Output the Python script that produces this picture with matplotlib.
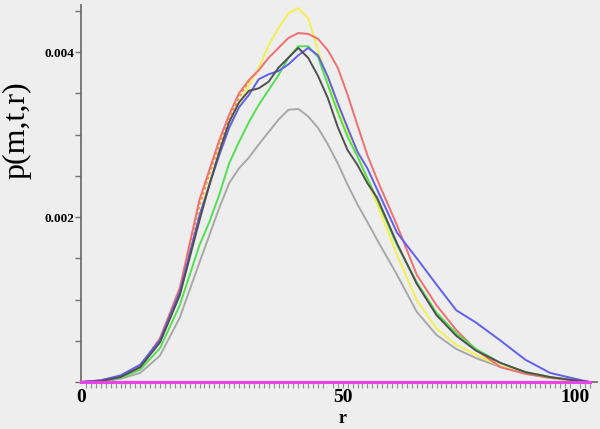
import matplotlib
matplotlib.use("Agg")
import matplotlib.pyplot as plt
import matplotlib.transforms as mtransforms
import numpy as np

# r grid (read positions)
r = [0, 4, 8, 12, 16, 20, 24, 26, 28, 30, 32, 34, 36, 38, 40, 42, 44, 46, 48, 50,
     52, 54, 56, 58, 60, 64, 68, 72, 76, 80, 85, 90, 95, 100, 103]

yellow = [0, 0.00001, 0.00006, 0.00017, 0.00051, 0.00108, 0.00202, 0.00242, 0.00275, 0.00308,
          0.00335, 0.00360, 0.00381, 0.00408, 0.00429, 0.00447, 0.00453, 0.00441, 0.00402, 0.00366,
          0.00333, 0.00303, 0.00275, 0.00245, 0.00215, 0.00154, 0.00099, 0.00065, 0.00045, 0.00033,
          0.00019, 0.00011, 0.00005, 0.00001, 0]

red = [0, 0.00002, 0.00007, 0.00019, 0.00053, 0.00114, 0.00221, 0.00257, 0.00293, 0.00324,
       0.00350, 0.00366, 0.00378, 0.00393, 0.00405, 0.00417, 0.00423, 0.00422, 0.00416, 0.00402,
       0.00381, 0.00348, 0.00311, 0.00275, 0.00245, 0.00190, 0.00130, 0.00093, 0.00063, 0.00039,
       0.00018, 0.00010, 0.00005, 0.00002, 0]

green = [0, 0.00001, 0.00005, 0.00015, 0.00041, 0.00093, 0.00166, 0.00194, 0.00227, 0.00265,
         0.00291, 0.00315, 0.00336, 0.00354, 0.00372, 0.00393, 0.00407, 0.00407, 0.00394, 0.00360,
         0.00327, 0.00297, 0.00273, 0.00247, 0.00221, 0.00166, 0.00121, 0.00084, 0.00059, 0.00040,
         0.00023, 0.00012, 0.00006, 0.00002, 0]

blue = [0, 0.00002, 0.00008, 0.00021, 0.00051, 0.00109, 0.00202, 0.00239, 0.00275, 0.00308,
        0.00333, 0.00348, 0.00367, 0.00373, 0.00377, 0.00385, 0.00396, 0.00405, 0.00396, 0.00370,
        0.00338, 0.00308, 0.00279, 0.00259, 0.00233, 0.00181, 0.00150, 0.00118, 0.00087, 0.00072,
        0.00050, 0.00027, 0.00011, 0.00004, 0]

black = [0, 0.00001, 0.00006, 0.00018, 0.00048, 0.00105, 0.00196, 0.00239, 0.00279, 0.00315,
         0.00339, 0.00353, 0.00356, 0.00364, 0.00381, 0.00393, 0.00405, 0.00393, 0.00371, 0.00344,
         0.00309, 0.00281, 0.00263, 0.00241, 0.00223, 0.00168, 0.00119, 0.00081, 0.00056, 0.00038,
         0.00023, 0.00012, 0.00006, 0.00002, 0]

gray = [0, 0, 0.00004, 0.00011, 0.00032, 0.00078, 0.00145, 0.00178, 0.00211, 0.00241,
        0.00259, 0.00272, 0.00288, 0.00303, 0.00318, 0.00330, 0.00331, 0.00322, 0.00308, 0.00288,
        0.00265, 0.00239, 0.00215, 0.00194, 0.00172, 0.00130, 0.00085, 0.00057, 0.00040, 0.00029,
        0.00018, 0.00010, 0.00005, 0.00001, 0]

# orange dotted curve, visible only on the rising side
orange_r = [0, 4, 8, 12, 16, 20, 24, 26, 28, 30, 32, 34, 36]
orange = [0, 0.00002, 0.00007, 0.00019, 0.00053, 0.00112, 0.00214, 0.00252, 0.00287, 0.00318,
          0.00345, 0.00365, 0.00378]

magenta_r = [0, 103]
magenta = [0, 0]

xtick_vals = [0, 50, 100]
xtick_text = ["0", "50", "100"]
ytick_text = {0.002: "0.002", 0.004: "0.004"}

bg = "#eeeeee"
fig = plt.figure(figsize=(6.0, 4.29), dpi=100, facecolor=bg)
ax = fig.add_axes([81/600, 47/429, 516/600, 377/429], facecolor=bg)

lw = 1.4
ax.plot(r, gray, color="#a8a8a8", lw=lw)
ax.plot(orange_r, orange, color="#f0a030", lw=lw, ls=(0, (1.5, 1.2)))
ax.plot(r, yellow, color="#f4f050", lw=lw)
ax.plot(r, red, color="#f07070", lw=lw)
ax.plot(r, green, color="#50e050", lw=lw)
ax.plot(r, blue, color="#6060f0", lw=lw)
ax.plot(r, black, color="#505050", lw=lw)
ax.plot(magenta_r, magenta, color="#ee40ee", lw=2.2, clip_on=False, zorder=5)

ax.set_xlim(0, 104.5)
ax.set_ylim(0, 0.00457)

for s in ["top", "right"]:
    ax.spines[s].set_visible(False)
for s in ["left", "bottom"]:
    ax.spines[s].set_color("#707070")
    ax.spines[s].set_linewidth(1.3)

yt = np.arange(0, 0.00457, 0.0005)
ax.set_yticks(yt)
ax.set_yticklabels([ytick_text.get(round(v, 4), "") for v in yt])
ax.tick_params(axis="y", direction="out", length=4, width=1, color="#707070", pad=1,
               labelsize=9.5)
for t in ax.get_yticklabels():
    t.set_fontfamily("Liberation Serif")
    t.set_fontweight("bold")

ax.set_xticks(xtick_vals)
ax.set_xticklabels(xtick_text)
ax.set_xticks(np.arange(1, 104, 1), minor=True)
ax.tick_params(axis="x", which="major", length=0, pad=5, labelsize=14)
ax.tick_params(axis="x", which="minor", direction="out", length=4, width=0.8, color="#909090")
labels = ax.get_xticklabels()
for t in labels:
    t.set_fontfamily("Liberation Serif")
    t.set_fontweight("bold")
# the "50" label sits a bit right of its tick in the reference
labels[1].set_transform(labels[1].get_transform() +
                        mtransforms.ScaledTranslation(15/100, 0, fig.dpi_scale_trans))

ax.set_xlabel("r", fontfamily="Liberation Serif", fontweight="bold", fontsize=13)
ax.xaxis.set_label_coords((343 - 81) / 516, -28 / 377)
ax.set_ylabel("p(m,t,r)", fontfamily="Liberation Serif", fontsize=23)
ax.yaxis.set_label_coords(-50 / 516, (382 - 130) / 377)

fig.savefig("out.png", dpi=100, facecolor=bg)
